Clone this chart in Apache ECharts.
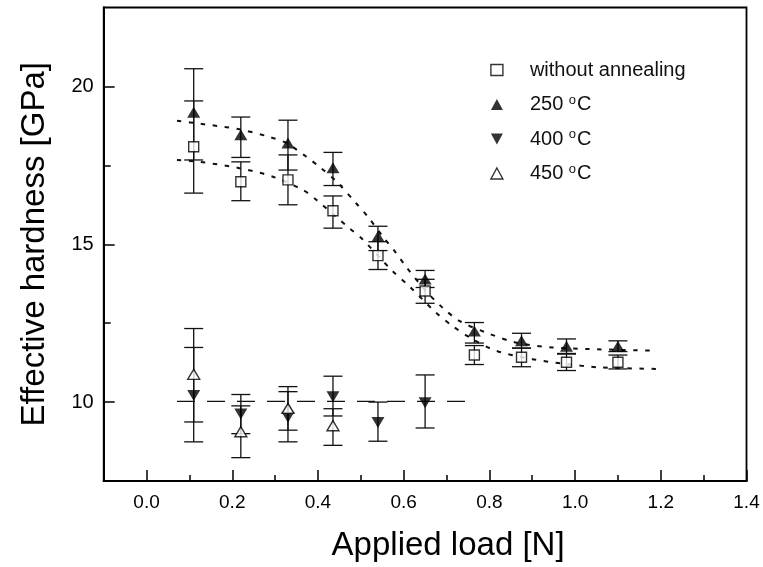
<!DOCTYPE html>
<html>
<head>
<meta charset="utf-8">
<script src="https://cdn.jsdelivr.net/npm/echarts@6/dist/echarts.min.js"></script>
<style>
  html, body { margin: 0; padding: 0; background: #fff; }
  #hardness { width: 763px; height: 567px; }
</style>
</head>
<body>
<div id="hardness"></div>
<script>
  // applied load of each indentation series [N]
  const loadAll = [0.11, 0.22, 0.33, 0.435, 0.54, 0.65, 0.765, 0.875, 0.98, 1.10];
  const loadLow = [0.11, 0.22, 0.33, 0.435, 0.54, 0.65];
  const loadHot = [0.11, 0.22, 0.33, 0.435];

  // without annealing
  const hNone = [18.09, 16.98, 17.04, 16.06, 14.64, 13.52, 11.49, 11.42, 11.26, 11.26];
  const hNoneLo = [16.62, 16.38, 16.25, 15.51, 14.20, 13.13, 11.19, 11.12, 11.00, 11.05];
  const hNoneHi = [19.54, 17.61, 17.83, 16.53, 15.08, 13.89, 11.79, 11.71, 11.52, 11.49];
  // 250 C
  const h250 = [19.18, 18.47, 18.21, 17.42, 15.25, 13.90, 12.25, 11.94, 11.77, 11.77];
  const h250Lo = [17.67, 17.75, 17.35, 16.86, 14.80, 13.63, 11.87, 11.71, 11.54, 11.60];
  const h250Hi = [20.56, 19.03, 18.93, 17.91, 15.57, 14.17, 12.52, 12.18, 12.00, 11.94];
  // 400 C
  const h400 = [10.21, 9.62, 9.52, 10.17, 9.35, 9.98];
  const h400Lo = [8.74, 9.00, 8.74, 9.56, 8.76, 9.18];
  const h400Hi = [11.73, 10.24, 10.33, 10.82, 10.00, 10.86];
  // 450 C
  const h450 = [10.88, 9.06, 9.80, 9.25];
  const h450Lo = [9.37, 8.24, 9.11, 8.63];
  const h450Hi = [12.33, 9.88, 10.49, 9.79];

  // dotted fit curves
  const fit250X = [0.071, 0.124, 0.217, 0.287, 0.326, 0.373, 0.403, 0.446, 0.489, 0.516, 0.551, 0.582, 0.605, 0.652, 0.691, 0.730, 0.791, 0.861, 0.947, 1.032, 1.182];
  const fit250Y = [18.91, 18.82, 18.64, 18.40, 18.21, 17.77, 17.46, 16.95, 16.30, 15.88, 15.25, 14.73, 14.30, 13.52, 12.99, 12.57, 12.21, 11.89, 11.73, 11.68, 11.63];
  const fitNoneX = [0.071, 0.124, 0.217, 0.295, 0.365, 0.396, 0.474, 0.501, 0.574, 0.613, 0.675, 0.714, 0.760, 0.815, 0.900, 0.978, 1.055, 1.191];
  const fitNoneY = [17.67, 17.61, 17.41, 17.14, 16.72, 16.41, 15.50, 15.20, 14.15, 13.67, 12.84, 12.41, 12.00, 11.63, 11.36, 11.21, 11.10, 11.05];
  // dashed level line of the annealed samples
  const levelX = [0.071, 0.765];
  const levelY = [10.02, 10.02];

  // ticks
  const xMajor = [0.0, 0.2, 0.4, 0.6, 0.8, 1.0, 1.2, 1.4];
  const xMinor = [0.1, 0.3, 0.5, 0.7, 0.9, 1.1, 1.3];
  const yMajor = [10, 15, 20];
  const yMinor = [12.5, 17.5];

  const names = ['without annealing', '250 °C', '400 °C', '450 °C'];

  const FONT = '"Liberation Sans", Arial, Helvetica, sans-serif';
  const zip = (xs, ys) => xs.map((x, i) => [x, ys[i]]);
  const zip3 = (xs, lo, hi) => xs.map((x, i) => [x, lo[i], hi[i]]);

  /* vertical error bar with caps */
  function renderErr (params, api) {
    let x = api.value(0)
    let a = api.coord([x, api.value(1)])
    let b = api.coord([x, api.value(2)])
    let w = 9.5
    let st = { stroke: '#111', lineWidth: 1.3 }
    return {
      type: 'group',
      children: [
        { type: 'line', shape: { x1: a[0], y1: a[1], x2: b[0], y2: b[1] }, style: st },
        { type: 'line', shape: { x1: a[0] - w, y1: a[1], x2: a[0] + w, y2: a[1] }, style: st },
        { type: 'line', shape: { x1: b[0] - w, y1: b[1], x2: b[0] + w, y2: b[1] }, style: st }
      ]
    }
  }
  function errSeries (data) {
    return { type: 'custom', renderItem: renderErr, data: data, encode: { x: 0, y: [1, 2] }, z: 3, silent: true }
  }

  const openStyle = { color: '#fff', borderColor: '#000', borderWidth: 1.4 };
  const fullStyle = { color: '#000', borderColor: '#000', borderWidth: 0 };
  const axLine = { onZero: false, lineStyle: { color: '#000', width: 1.8 } };

  let chart = echarts.init(document.getElementById('hardness'));
  let option = {
    animation: false,
    backgroundColor: '#fff',
    textStyle: { fontFamily: FONT },
    grid: { left: 103.7, top: 7.5, right: 16.5, bottom: 84.5, show: true, borderColor: '#000', borderWidth: 1.8 },
    legend: {
      orient: 'vertical',
      left: 485.2,
      top: 55,
      itemWidth: 12,
      itemHeight: 11,
      itemGap: 13.5,
      selectedMode: false,
      data: [
        { name: names[0], icon: 'rect', itemStyle: openStyle },
        { name: names[1], icon: 'triangle', itemStyle: fullStyle },
        { name: names[2], icon: 'path://M0,0L12,0L6,11Z', itemStyle: fullStyle },
        { name: names[3], icon: 'triangle', itemStyle: openStyle }
      ],
      formatter: function (name) {
        if (name.indexOf('°C') < 0) return '{p|}{t|' + name + '}'
        return '{p|}{t|' + name.replace(' °C', ' ') + '}{s|o}{t|C}'
      },
      textStyle: {
        color: '#111',
        rich: {
          p: { width: 22 },
          t: { fontSize: 20, lineHeight: 22, fontFamily: FONT, color: '#111' },
          s: { fontSize: 13, lineHeight: 11, verticalAlign: 'top', fontFamily: FONT, color: '#111', padding: [0, 1, 0, 0] }
        }
      }
    },
    xAxis: [
      {
        type: 'value', min: -0.1, max: 1.4,
        name: 'Applied load [N]', nameLocation: 'middle', nameGap: 48,
        nameTextStyle: { fontSize: 33, color: '#000', fontFamily: FONT, padding: [0, 0, 0, 46] },
        axisLine: axLine,
        axisTick: { inside: true, length: 11, customValues: xMajor, lineStyle: { color: '#000', width: 1.5 } },
        axisLabel: { customValues: xMajor, formatter: v => v.toFixed(1), fontSize: 19, color: '#000', margin: 12, fontFamily: FONT },
        splitLine: { show: false }
      },
      {
        type: 'value', min: -0.1, max: 1.4, position: 'bottom',
        axisLine: axLine,
        axisTick: { inside: true, length: 6, customValues: xMinor, lineStyle: { color: '#000', width: 1.5 } },
        axisLabel: { show: false },
        splitLine: { show: false }
      }
    ],
    yAxis: [
      {
        type: 'value', min: 7.5, max: 22.5,
        name: 'Effective hardness [GPa]', nameLocation: 'middle', nameGap: 52,
        nameTextStyle: { fontSize: 33, color: '#000', fontFamily: FONT },
        axisLine: axLine,
        axisTick: { inside: true, length: 11, customValues: yMajor, lineStyle: { color: '#000', width: 1.5 } },
        axisLabel: { customValues: yMajor, formatter: v => String(v), fontSize: 20, color: '#000', margin: 10, fontFamily: FONT },
        splitLine: { show: false }
      },
      {
        type: 'value', min: 7.5, max: 22.5, position: 'left',
        axisLine: axLine,
        axisTick: { inside: true, length: 7, customValues: yMinor, lineStyle: { color: '#000', width: 1.5 } },
        axisLabel: { show: false },
        splitLine: { show: false }
      }
    ],
    series: [
      // fits
      { type: 'line', data: zip(fit250X, fit250Y), smooth: 0.3, symbol: 'none', z: 2, silent: true,
        lineStyle: { color: '#111', width: 2, type: [4.5, 7.5] } },
      { type: 'line', data: zip(fitNoneX, fitNoneY), smooth: 0.3, symbol: 'none', z: 2, silent: true,
        lineStyle: { color: '#111', width: 2, type: [4.5, 7.5] } },
      { type: 'line', data: zip(levelX, levelY), symbol: 'none', z: 2, silent: true,
        lineStyle: { color: '#111', width: 1.3, type: [18, 12] } },
      // error bars
      errSeries(zip3(loadAll, hNoneLo, hNoneHi)),
      errSeries(zip3(loadAll, h250Lo, h250Hi)),
      errSeries(zip3(loadLow, h400Lo, h400Hi)),
      errSeries(zip3(loadHot, h450Lo, h450Hi)),
      // markers
      { name: names[0], type: 'scatter', data: zip(loadAll, hNone), symbol: 'rect', symbolSize: 10, itemStyle: openStyle, z: 5 },
      { name: names[1], type: 'scatter', data: zip(loadAll, h250), symbol: 'triangle', symbolSize: [13, 11], itemStyle: fullStyle, z: 5 },
      { name: names[2], type: 'scatter', data: zip(loadLow, h400), symbol: 'triangle', symbolRotate: 180, symbolSize: [13, 11], itemStyle: fullStyle, z: 5 },
      { name: names[3], type: 'scatter', data: zip(loadHot, h450), symbol: 'triangle', symbolSize: [12, 10], itemStyle: openStyle, z: 5 }
    ]
  };
  option && chart.setOption(option);
</script>
</body>
</html>
